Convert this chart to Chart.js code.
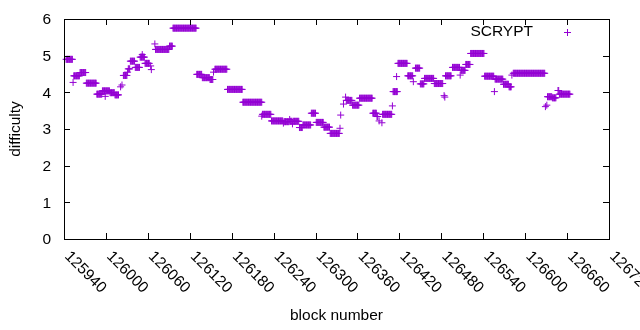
<!DOCTYPE html>
<html>
<head>
<meta charset="utf-8">
<script src="https://cdn.jsdelivr.net/npm/chart.js@4"></script>
<style>
  body { margin: 0; background: #fff; }
  canvas { display: block; }
</style>
</head>
<body>
<canvas id="myChart" width="640" height="330"></canvas>
<script>
// runs of blocks with the same SCRYPT difficulty (start block, end block, value)
const runStart = [125943, 125953, 125954, 125963, 125972, 125987, 125995, 125999, 126006, 126013,
  126021, 126023, 126025, 126031, 126032, 126035, 126042, 126049, 126052, 126056,
  126064, 126065, 126070, 126071, 126091, 126096, 126130, 126138, 126149, 126154,
  126156, 126174, 126196, 126223, 126224, 126237, 126254, 126255, 126263, 126264,
  126267, 126268, 126277, 126282, 126294, 126301, 126312, 126321, 126335, 126336,
  126340, 126343, 126344, 126353, 126363, 126382, 126388, 126391, 126395, 126396,
  126410, 126411, 126416, 126418, 126432, 126440, 126443, 126450, 126456, 126470,
  126484, 126485, 126486, 126496, 126507, 126508, 126515, 126522, 126542, 126556,
  126557, 126569, 126577, 126581, 126583, 126629, 126631, 126632, 126639, 126647,
  126649];
const runEnd = [125952, 125953, 125962, 125971, 125986, 125994, 126005, 125999, 126012, 126018,
  126021, 126023, 126030, 126031, 126034, 126041, 126048, 126055, 126052, 126062,
  126064, 126065, 126070, 126090, 126095, 126129, 126137, 126148, 126153, 126154,
  126173, 126195, 126223, 126223, 126236, 126253, 126254, 126262, 126263, 126266,
  126267, 126276, 126281, 126293, 126300, 126311, 126320, 126334, 126335, 126336,
  126340, 126343, 126352, 126362, 126381, 126387, 126389, 126391, 126395, 126409,
  126410, 126417, 126416, 126431, 126439, 126440, 126449, 126455, 126469, 126482,
  126484, 126485, 126494, 126506, 126507, 126514, 126521, 126541, 126555, 126556,
  126568, 126576, 126580, 126581, 126628, 126629, 126631, 126638, 126644, 126648,
  126664];
const runValue = [4.90, 4.27, 4.45, 4.54, 4.25, 3.95, 4.04, 3.89, 3.99, 3.93,
  4.15, 4.20, 4.46, 4.55, 4.64, 4.85, 4.68, 4.96, 5.03, 4.79,
  4.72, 4.62, 5.32, 5.17, 5.26, 5.75, 4.49, 4.40, 4.35, 4.55,
  4.63, 4.08, 3.73, 3.35, 3.40, 3.22, 3.16, 3.20, 3.26, 3.21,
  3.14, 3.21, 3.04, 3.11, 3.43, 3.18, 3.05, 2.88, 3.02, 3.38,
  3.68, 3.87, 3.78, 3.65, 3.84, 3.43, 3.34, 3.22, 3.17, 3.40,
  3.63, 4.02, 4.43, 4.79, 4.45, 4.29, 4.66, 4.23, 4.38, 4.24,
  3.91, 3.87, 4.45, 4.68, 4.47, 4.60, 4.76, 5.06, 4.44, 4.02,
  4.36, 4.22, 4.15, 4.47, 4.52, 3.61, 3.65, 3.88, 3.85, 4.05,
  3.95];

const xTicks = [125940, 126000, 126060, 126120, 126180, 126240, 126300, 126360, 126420, 126480, 126540, 126600, 126660, 126720];
const yTicks = [0, 1, 2, 3, 4, 5, 6];

const purple = "#9400d3";
const font = "15.5px 'Liberation Sans', Arial, sans-serif";

const points = [];
runStart.forEach((s, i) => {
  for (let b = s; b <= runEnd[i]; b++) points.push({ x: b, y: runValue[i] });
});

const gnuplotFrame = {
  id: "gnuplotFrame",
  afterDraw(chart) {
    const c = chart.ctx;
    const a = chart.chartArea;
    const xs = chart.scales.x;
    const ys = chart.scales.y;
    c.save();
    c.strokeStyle = "#000";
    c.lineWidth = 1;
    c.strokeRect(a.left + 0.5, a.top + 0.5, a.right - a.left, a.bottom - a.top);

    c.beginPath();
    yTicks.forEach((v) => {
      const y = Math.round(ys.getPixelForValue(v)) + 0.5;
      c.moveTo(a.left, y); c.lineTo(a.left + 6, y);
      c.moveTo(a.right, y); c.lineTo(a.right - 6, y);
    });
    xTicks.forEach((v) => {
      const x = Math.round(xs.getPixelForValue(v)) + 0.5;
      c.moveTo(x, a.bottom); c.lineTo(x, a.bottom - 6);
      c.moveTo(x, a.top); c.lineTo(x, a.top + 6);
    });
    c.stroke();

    c.fillStyle = "#000";
    c.font = font;
    c.textAlign = "right";
    c.textBaseline = "middle";
    yTicks.forEach((v) => {
      c.fillText(String(v), 51, ys.getPixelForValue(v) + 1);
    });

    c.textAlign = "left";
    xTicks.forEach((v) => {
      const x = xs.getPixelForValue(v);
      c.save();
      c.translate(x + 3, a.bottom + 15);
      c.rotate(Math.PI / 4);
      c.fillText(String(v), 0, 0);
      c.restore();
    });

    c.textAlign = "center";
    c.fillText("block number", (a.left + a.right) / 2, 316);
    c.save();
    c.translate(16, (a.top + a.bottom) / 2);
    c.rotate(-Math.PI / 2);
    c.fillText("difficulty", 0, 0);
    c.restore();

    // key
    c.textAlign = "right";
    c.fillText("SCRYPT", 533, 32);
    c.strokeStyle = purple;
    c.beginPath();
    c.moveTo(564, 32.5); c.lineTo(571, 32.5);
    c.moveTo(567.5, 29); c.lineTo(567.5, 36);
    c.stroke();
    c.restore();
  },
};

new Chart(document.getElementById("myChart"), {
  type: "scatter",
  data: {
    datasets: [
      {
        label: "SCRYPT",
        data: points,
        pointStyle: "cross",
        pointRadius: 3.5,
        pointBorderWidth: 1,
        borderColor: purple,
        backgroundColor: purple,
        clip: false,
      },
    ],
  },
  options: {
    responsive: false,
    animation: false,
    layout: { padding: { left: 64, right: 31, top: 19, bottom: 91 } },
    plugins: {
      legend: { display: false },
      tooltip: { enabled: false },
    },
    scales: {
      x: { type: "linear", display: false, min: 125940, max: 126720 },
      y: { display: false, min: 0, max: 6 },
    },
  },
  plugins: [gnuplotFrame],
});
</script>
</body>
</html>
